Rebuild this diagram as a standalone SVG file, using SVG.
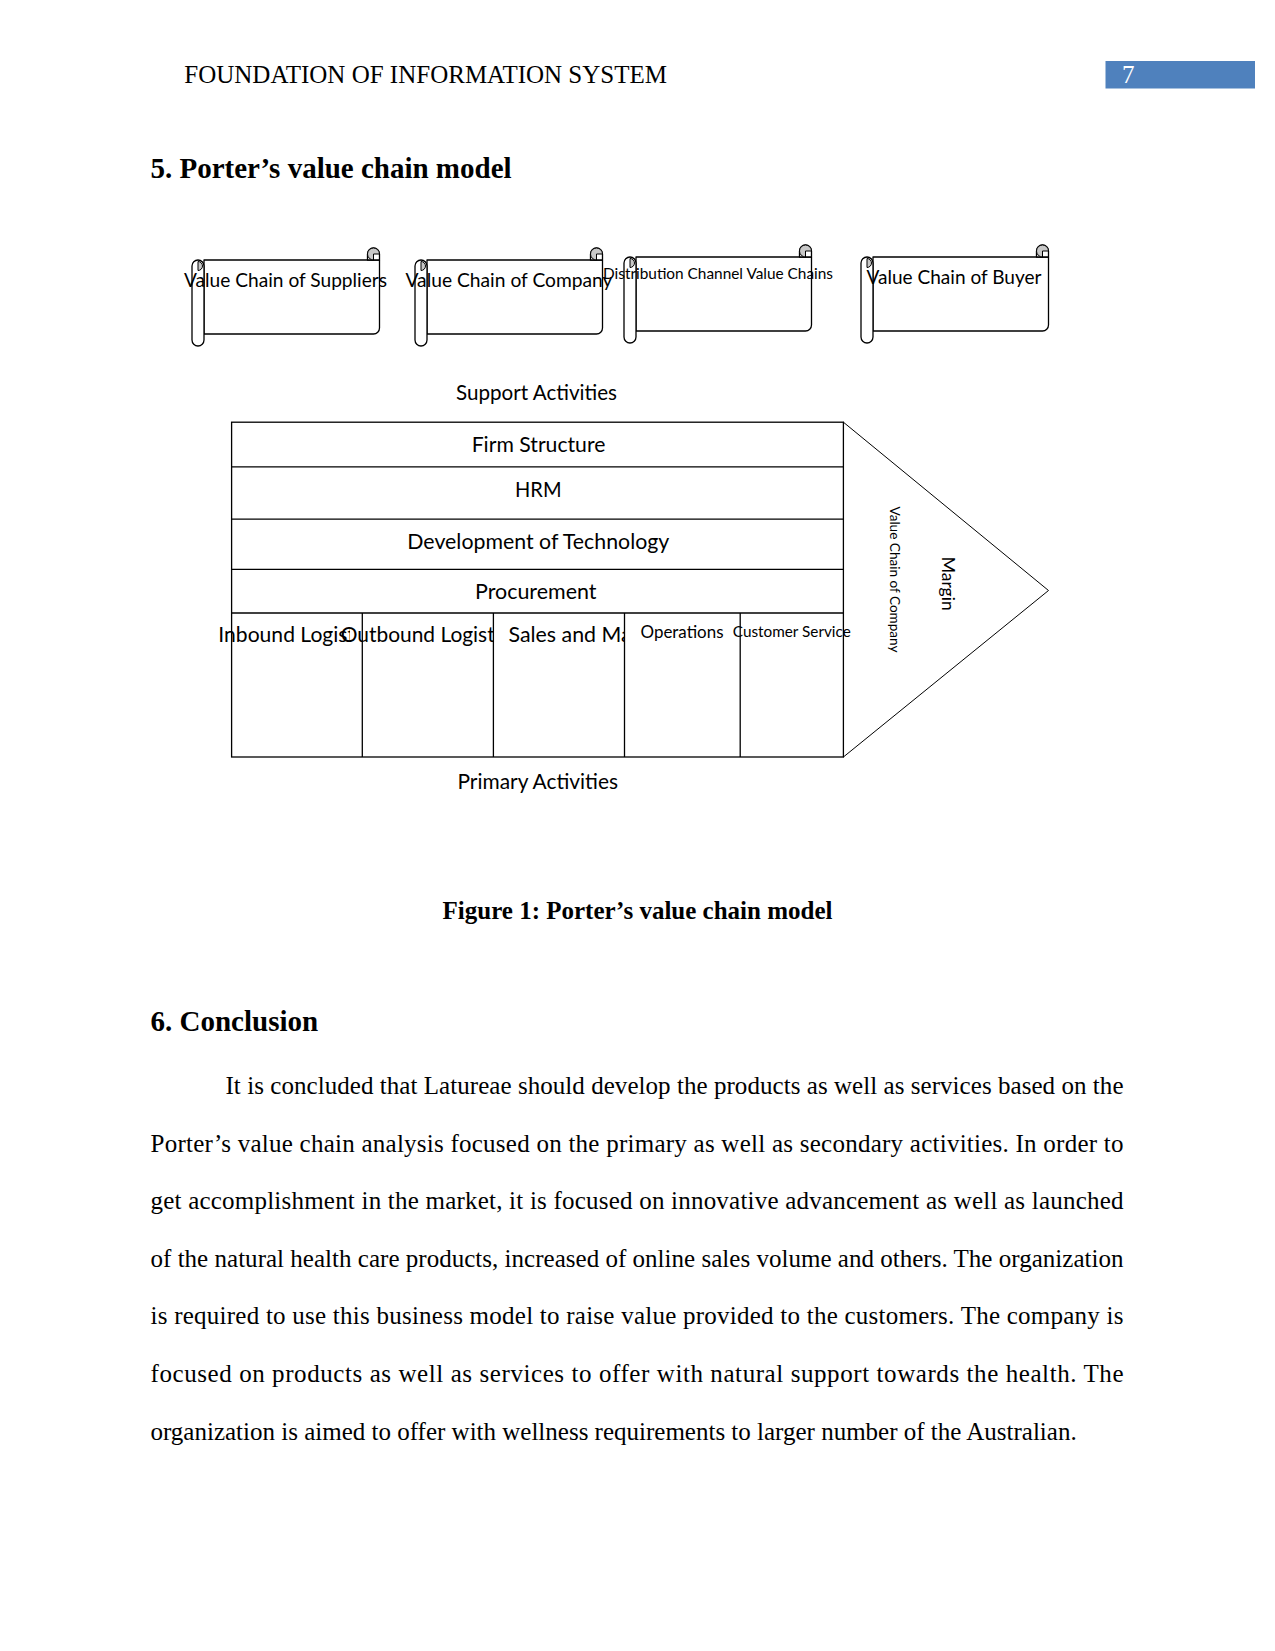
<svg xmlns="http://www.w3.org/2000/svg" width="1275" height="1651" viewBox="0 0 1275 1651">
<style>
.c{font-family:Lato,"Liberation Sans",sans-serif;fill:#000}
.t{font-family:"Liberation Serif","Times New Roman",serif;fill:#000}
.tb{font-family:"Liberation Serif","Times New Roman",serif;font-weight:bold;fill:#000}
.ln{fill:none;stroke:#000;stroke-width:1.3}
.wf{fill:#fff;stroke:#000;stroke-width:1.3;stroke-linejoin:round}
.gf{fill:#c8c8c8;stroke:#000;stroke-width:1}
.s11{font-size:20.6px}
.s10{font-size:18.8px}
.s9{font-size:16.9px}
.s8{font-size:15px}
.s7{font-size:13.1px}
.p{font-size:25px}
</style>
<defs>
<g id="scrollShape">
<path class="wf" d="M12 12 H187.5 V80 A6 6 0 0 1 181.5 86 H12 Z"/>
<path class="wf" d="M175.5 12 V6 A6 6 0 0 1 187.5 6 V12 Z"/>
<path class="gf" d="M181.5 6 H187.5 A6 6 0 1 0 181.5 12 Z"/>
<rect class="wf" x="0" y="12" width="12" height="86" rx="6" ry="6"/>
<path class="gf" d="M6 13.5 A4.5 4.5 0 0 1 6 22.5 Z"/>
</g>
<clipPath id="clipIn"><rect x="150" y="600" width="200" height="60"/></clipPath>
<clipPath id="clipOut"><rect x="330" y="600" width="163" height="60"/></clipPath>
<clipPath id="clipSales"><rect x="494" y="600" width="130.4" height="60"/></clipPath>
</defs>

<g id="header">
<text class="t p" x="184.3" y="83">FOUNDATION OF INFORMATION SYSTEM</text>
<rect x="1105.5" y="61" width="149.5" height="27.5" fill="#4F81BD"/>
<text class="t p" x="1122" y="83" style="fill:#fff">7</text>
</g>

<text class="tb" x="150.5" y="177.5" font-size="29">5. Porter’s value chain model</text>

<g id="scroll-suppliers">
<use href="#scrollShape" transform="translate(192,248)"/>
<text class="c s10" x="184" y="286.5" textLength="203" lengthAdjust="spacingAndGlyphs">Value Chain of Suppliers</text>
</g>
<g id="scroll-company">
<use href="#scrollShape" transform="translate(415,248)"/>
<text class="c s10" x="405.5" y="286.5" textLength="207" lengthAdjust="spacingAndGlyphs">Value Chain of Company</text>
</g>
<g id="scroll-distribution">
<use href="#scrollShape" transform="translate(624,245)"/>
<text class="c s8" x="603" y="279" textLength="230" lengthAdjust="spacingAndGlyphs">Distribution Channel Value Chains</text>
</g>
<g id="scroll-buyer">
<use href="#scrollShape" transform="translate(861,245)"/>
<text class="c s10" x="866.5" y="284" textLength="175" lengthAdjust="spacingAndGlyphs">Value Chain of Buyer</text>
</g>

<text id="support-label" class="c s11" x="456" y="399.5" textLength="161" lengthAdjust="spacingAndGlyphs">Support Activities</text>

<g id="margin-chevron">
<polyline points="843.4,422.2 1048.5,590.5 843.4,757" fill="none" stroke="#000" stroke-width="1"/>
<text class="c s7" transform="translate(890,506.5) rotate(90)" x="0" y="0" textLength="146" lengthAdjust="spacingAndGlyphs">Value Chain of Company</text>
<text class="c s9" transform="translate(942,556.7) rotate(90)" x="0" y="0" textLength="54" lengthAdjust="spacingAndGlyphs">Margin</text>
</g>

<g id="primary-texts">
<text class="c s11" x="218.3" y="641.7" textLength="161.4" lengthAdjust="spacingAndGlyphs" clip-path="url(#clipIn)">Inbound Logistics</text>
<text class="c s11" x="340.7" y="641.7" textLength="178.4" lengthAdjust="spacingAndGlyphs" clip-path="url(#clipOut)">Outbound Logistics</text>
<text class="c s11" x="508.5" y="641.7" textLength="188.5" lengthAdjust="spacingAndGlyphs" clip-path="url(#clipSales)">Sales and Marketing</text>
<text class="c s9" x="640.5" y="637.5" textLength="83" lengthAdjust="spacingAndGlyphs">Operations</text>
<text class="c s8" x="732.8" y="636.5" textLength="118" lengthAdjust="spacingAndGlyphs">Customer Service</text>
</g>

<g id="value-chain-table">
<rect class="ln" x="231.6" y="422.2" width="611.8" height="334.8"/>
<line class="ln" x1="231.6" y1="466.8" x2="843.4" y2="466.8"/>
<line class="ln" x1="231.6" y1="519.2" x2="843.4" y2="519.2"/>
<line class="ln" x1="231.6" y1="569.3" x2="843.4" y2="569.3"/>
<line class="ln" x1="231.6" y1="613" x2="843.4" y2="613"/>
<line class="ln" x1="362.3" y1="613" x2="362.3" y2="757"/>
<line class="ln" x1="493.4" y1="613" x2="493.4" y2="757"/>
<line class="ln" x1="624.5" y1="613" x2="624.5" y2="757"/>
<line class="ln" x1="740.2" y1="613" x2="740.2" y2="757"/>
</g>

<g id="support-rows">
<text class="c s11" x="471.7" y="451.5" textLength="133.7" lengthAdjust="spacingAndGlyphs">Firm Structure</text>
<text class="c s11" x="515" y="497" textLength="46.5" lengthAdjust="spacingAndGlyphs">HRM</text>
<text class="c s11" x="407.3" y="548.5" textLength="262" lengthAdjust="spacingAndGlyphs">Development of Technology</text>
<text class="c s11" x="475" y="598.5" textLength="121.5" lengthAdjust="spacingAndGlyphs">Procurement</text>
</g>

<text id="primary-label" class="c s11" x="457.5" y="789" textLength="160.5" lengthAdjust="spacingAndGlyphs">Primary Activities</text>

<text class="tb" x="637.5" y="919" font-size="25" text-anchor="middle">Figure 1: Porter’s value chain model</text>

<text class="tb" x="150.5" y="1031" font-size="29">6. Conclusion</text>

<g id="paragraph" class="t p">
<text class="t p" x="225.5" y="1094" textLength="898" lengthAdjust="spacing">It is concluded that Latureae should develop the products as well as services based on the</text>
<text class="t p" x="150.5" y="1151.6" textLength="973" lengthAdjust="spacing">Porter’s value chain analysis focused on the primary as well as secondary activities. In order to</text>
<text class="t p" x="150.5" y="1209.2" textLength="973" lengthAdjust="spacing">get accomplishment in the market, it is focused on innovative advancement as well as launched</text>
<text class="t p" x="150.5" y="1266.8" textLength="973" lengthAdjust="spacing">of the natural health care products, increased of online sales volume and others. The organization</text>
<text class="t p" x="150.5" y="1324.4" textLength="973" lengthAdjust="spacing">is required to use this business model to raise value provided to the customers. The company is</text>
<text class="t p" x="150.5" y="1382" textLength="973" lengthAdjust="spacing">focused on products as well as services to offer with natural support towards the health. The</text>
<text class="t p" x="150.5" y="1439.6">organization is aimed to offer with wellness requirements to larger number of the Australian.</text>
</g>
</svg>
